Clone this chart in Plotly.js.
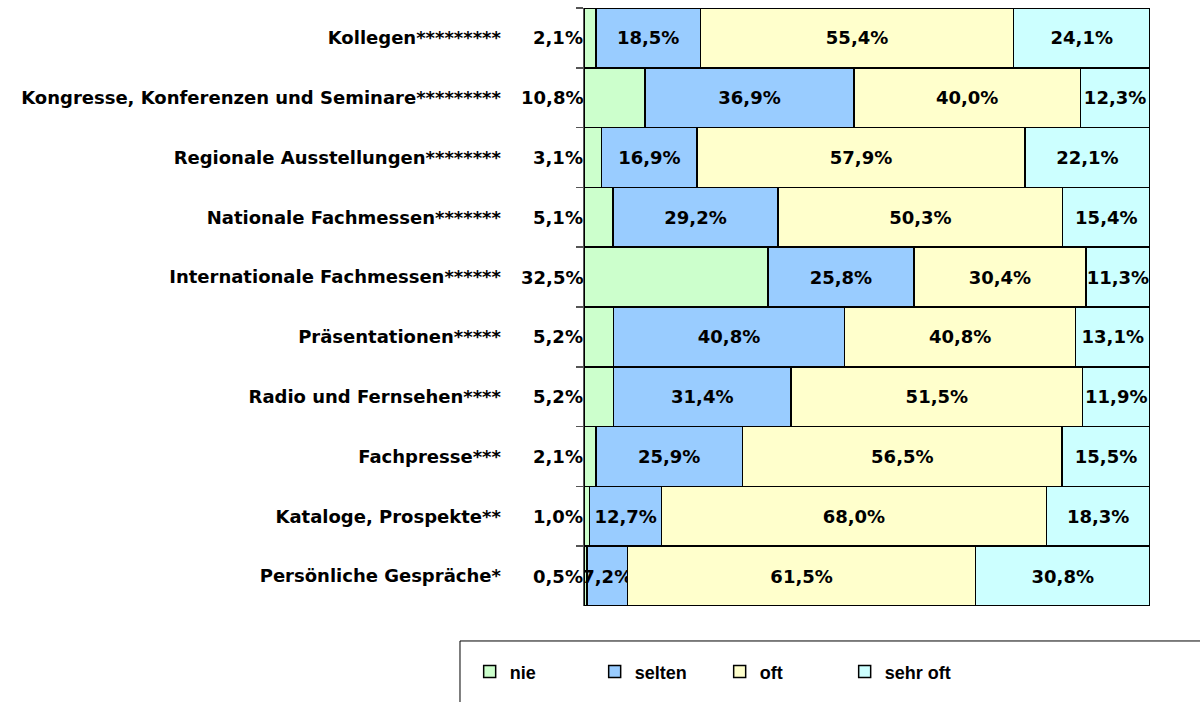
<!DOCTYPE html>
<html><head><meta charset="utf-8">
<script src="https://cdn.plot.ly/plotly-3.0.1.min.js"></script>
<style>html,body{margin:0;padding:0;background:#fff}#chart{width:1200px;height:702px}</style>
</head><body><div id="chart"></div>
<script>
const categories = ["Kollegen*********","Kongresse, Konferenzen und Seminare*********","Regionale Ausstellungen********","Nationale Fachmessen*******","Internationale Fachmessen******","Präsentationen*****","Radio und Fernsehen****","Fachpresse***","Kataloge, Prospekte**","Persönliche Gespräche*"];
const nie     = [2.1, 10.8, 3.1, 5.1, 32.5, 5.2, 5.2, 2.1, 1.0, 0.5];
const selten  = [18.5, 36.9, 16.9, 29.2, 25.8, 40.8, 31.4, 25.9, 12.7, 7.2];
const oft     = [55.4, 40.0, 57.9, 50.3, 30.4, 40.8, 51.5, 56.5, 68.0, 61.5];
const sehrOft = [24.1, 12.3, 22.1, 15.4, 11.3, 13.1, 11.9, 15.5, 18.3, 30.8];
const seriesNames = ["nie","selten","oft","sehr oft"];
const colors = ["#CCFFCC","#99CCFF","#FFFFCC","#CCFFFF"];

const fmt = v => v.toFixed(1).replace('.', ',') + '%';
const FONT = "DejaVu Sans, Liberation Sans, Arial, sans-serif";
const series = [nie, selten, oft, sehrOft];

const traces = series.map((vals, i) => ({
  type: 'bar', orientation: 'h', name: seriesNames[i],
  y: categories, x: vals,
  text: i === 0 ? vals.map(() => '') : vals.map(fmt),
  textposition: 'inside', insidetextanchor: 'middle', textangle: 0,
  constraintext: 'none', cliponaxis: false,
  textfont: {family: FONT, size: 18, color: '#000', weight: 'bold'},
  marker: {color: colors[i], line: {color: '#000', width: 1.5}},
  hoverinfo: 'skip'
}));

const annotations = nie.map((v, i) => ({
  xref: 'paper', yref: 'y', x: 0, y: categories[i], xanchor: 'right', yanchor: 'middle',
  xshift: 1, text: fmt(v), showarrow: false,
  font: {family: FONT, size: 18, color: '#000', weight: 'bold'}
}));

const layout = {
  width: 1200, height: 702,
  margin: {l: 584, r: 50, t: 8, b: 96, autoexpand: false},
  paper_bgcolor: '#fff', plot_bgcolor: '#fff',
  barmode: 'stack', barnorm: 'percent', bargap: 0,
  showlegend: true,
  legend: {orientation: 'h', x: -0.202, y: -0.11, xanchor: 'left', yanchor: 'middle',
    entrywidth: 80, entrywidthmode: 'pixels', traceorder: 'normal',
    font: {family: "Liberation Sans, Arial, sans-serif", size: 18, color: '#000', weight: 'bold'},
    bgcolor: 'rgba(0,0,0,0)', borderwidth: 0},
  xaxis: {range: [0, 100.02], showgrid: false, zeroline: false, showticklabels: false, ticks: '', showline: false, fixedrange: true},
  yaxis: {autorange: 'reversed', type: 'category', showgrid: false, zeroline: false,
    showline: true, linecolor: '#555', linewidth: 1.5,
    ticks: 'outside', tickson: 'boundaries', ticklen: 7, tickcolor: '#555', tickwidth: 1.5,
    ticklabelstandoff: 78, automargin: false,
    tickfont: {family: FONT, size: 18, color: '#000', weight: 'bold'}},
  shapes: [{type: 'rect', xref: 'paper', yref: 'paper', x0: -0.2191, x1: 1.106, y0: -0.0585, y1: -0.2,
    line: {color: '#000', width: 1}, fillcolor: 'rgba(0,0,0,0)'}],
  annotations: annotations
};

Plotly.newPlot('chart', traces, layout, {displayModeBar: false, staticPlot: true});
</script></body></html>
